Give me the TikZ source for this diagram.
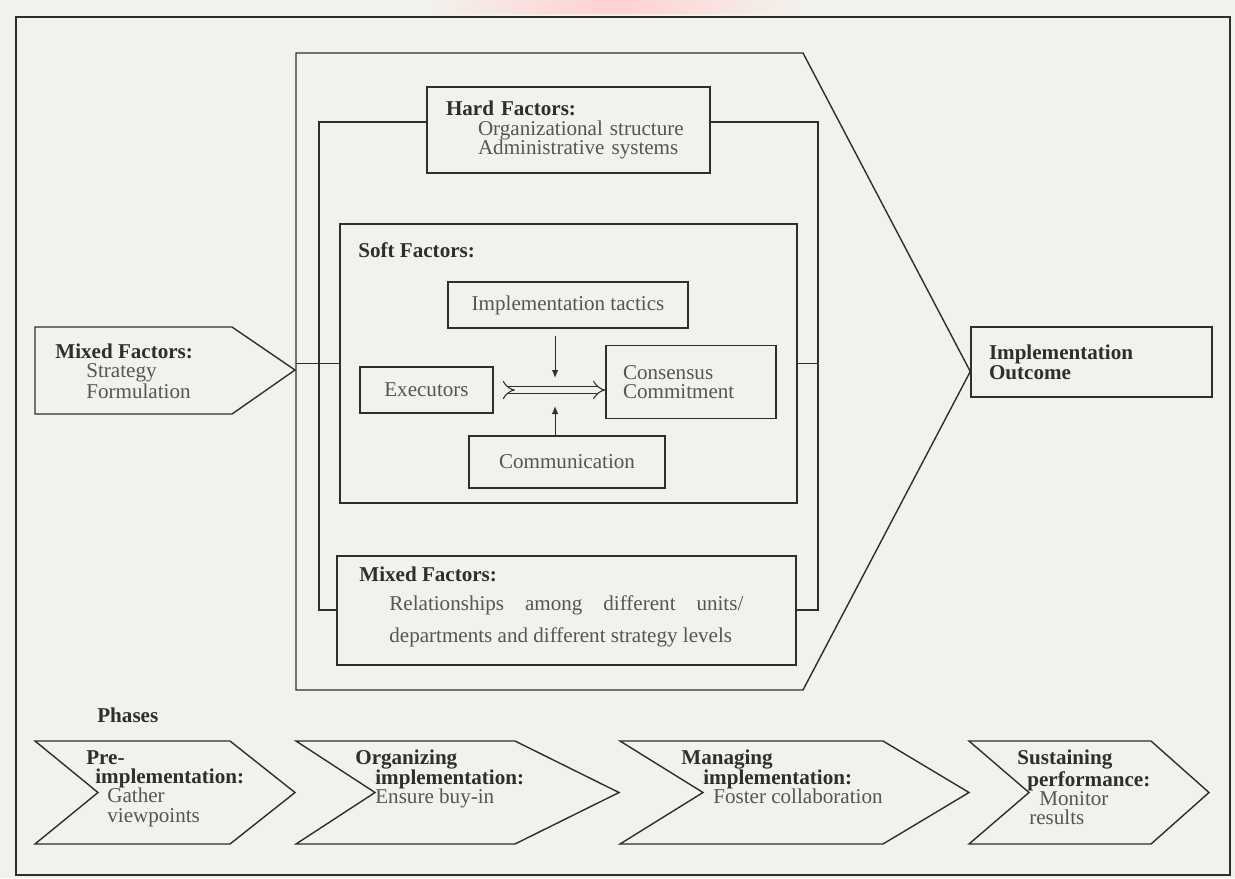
\documentclass[tikz,border=0pt]{standalone}
\usepackage{fontspec}
\setmainfont{Liberation Serif}
\usetikzlibrary{arrows.meta,calc}

\definecolor{paper}{HTML}{F3F1EC}
\definecolor{ink}{HTML}{2E2E2E}
\definecolor{grey}{HTML}{555555}
\newcommand{\hdr}[1]{{\color{ink}\bfseries #1}}

\begin{document}
\begin{tikzpicture}[x=0.2mm,y=-0.2mm,
  outline/.style={draw=ink,line width=0.8pt},
  box/.style={outline,fill=paper,inner sep=0pt,text=grey,font=\fontsize{12}{11}\selectfont},
  txt/.style={inner sep=0pt,anchor=north west,align=left,text=grey,font=\fontsize{12}{11}\selectfont},
  thinarrow/.style={draw=ink,line width=0.6pt,-{Latex[length=1.6mm,width=1.3mm]}},
  hollow/.style={draw=ink,line width=0.6pt,double=paper,double distance=1.1mm,{Implies[reversed]}-{Implies}}]
\useasboundingbox (0,0) rectangle (1235,878);
\fill[paper] (0,0) rectangle (1235,878);
% smudge at the top edge
\shade[left color=paper,right color=paper,middle color=red!18] (430,0) rectangle (795,13);
\draw[draw=ink,line width=1.2pt] (16,17) rectangle (1230,875);

% outcome box on the right
\node[box,minimum width=48.2mm,minimum height=14mm,text width=41mm,align=left,font=\fontsize{12}{11.2}\selectfont] (outcome) at (1091.5,362) {\hdr{Implementation}\\\hdr{Outcome}};
\coordinate (tipy) at (0,371.5);

% big arrow and the frame inside it
\draw[outline] (296,53) -- (803,53) -- (outcome.west |- tipy) -- (803,690) -- (296,690) -- cycle;
\draw[outline] (319,122) rectangle (818,610);

% left arrow
\draw[outline] (35,327) -- (232,327) -- (295,370) -- (232,414) -- (35,414) -- cycle;
\node[txt,font=\fontsize{12}{10.8}\selectfont] (strat) at (55,344) {\hdr{Mixed Factors:}\\\hspace*{6.2mm}Strategy\\\hspace*{6.2mm}Formulation};

% hard factors
\node[box,minimum width=56.6mm,minimum height=17.2mm,text width=49mm,align=left] (hard) at (568.5,130) {\hdr{Hard Factors:}\\\hspace*{6.4mm}Organizational structure\\\hspace*{6.4mm}Administrative systems};

% soft factors
\node[box,minimum width=91.4mm,minimum height=55.8mm] (soft) at (568.5,363.5) {};
\node[txt] (softlbl) at (358,242) {\hdr{Soft Factors:}};
\draw[outline] (296,363.5) -- (soft.west);
\draw[outline] (soft.east) -- (818,363.5);

\node[box,minimum width=48mm,minimum height=9.2mm] (tactics) at (568,305) {Implementation tactics};
\node[box,minimum width=26.6mm,minimum height=9.2mm] (exec) at (426.5,390) {Executors};
\node[box,minimum width=34mm,minimum height=14.6mm,text width=27.2mm,align=left] (consensus) at (691,382) {Consensus\\Commitment};
\node[box,minimum width=39.2mm,minimum height=10.4mm] (comm) at (567,462) {Communication};

\coordinate (flow) at ($(exec.east)!0.55!(exec.east -| consensus.west)$);
\draw[hollow,shorten <=2mm] (exec.east) -- (exec.east -| consensus.west);
\draw[thinarrow,shorten <=1.4mm,shorten >=2.4mm] (tactics.south -| flow) -- (flow);
\draw[thinarrow,shorten >=3.2mm] (comm.north -| flow) -- (flow);

% mixed factors at the bottom
\node[box,minimum width=91.8mm,minimum height=21.8mm] (mixed) at (566.5,610.5) {};
\node[txt,font=\fontsize{12}{16}\selectfont] (mixedlbl) at (359,567) {\hdr{Mixed Factors:}\\\hspace*{6mm}\makebox[70.8mm][s]{Relationships among different units/}\\[2.5pt]\hspace*{6mm}departments and different strategy levels};

% phases
\node[txt] (phases) at (97,708) {\hdr{Phases}};
\draw[outline] (35,741) -- (230,741) -- (295,792.5) -- (230,844) -- (35,844) -- (98,792.5) -- cycle;
\draw[outline] (296,741) -- (515,741) -- (619,792.5) -- (515,844) -- (296,844) -- (375,792.5) -- cycle;
\draw[outline] (620,741) -- (883,741) -- (969,792.5) -- (883,844) -- (620,844) -- (703,792.5) -- cycle;
\draw[outline] (969,741) -- (1151,741) -- (1209,792.5) -- (1151,844) -- (969,844) -- (1029,792.5) -- cycle;

\node[txt,font=\fontsize{12}{11}\selectfont] (pre) at (86,750) {\hdr{Pre-}\\\hspace*{1.8mm}\hdr{implementation:}\\\hspace*{4.2mm}Gather\\\hspace*{4.2mm}viewpoints};
\node[txt,font=\fontsize{12}{11}\selectfont] (organize) at (355,750) {\hdr{Organizing}\\\hspace*{4mm}\hdr{implementation:}\\\hspace*{4mm}Ensure buy-in};
\node[txt,font=\fontsize{12}{11}\selectfont] (manage) at (681,750) {\hdr{Managing}\\\hspace*{4.4mm}\hdr{implementation:}\\\hspace*{6.4mm}Foster collaboration};
\node[txt,font=\fontsize{12}{11}\selectfont] (sustain) at (1017,750) {\hdr{Sustaining}\\\hspace*{2mm}\hdr{performance:}\\\hspace*{4.4mm}Monitor\\\hspace*{2.4mm}results};
\end{tikzpicture}
\end{document}
